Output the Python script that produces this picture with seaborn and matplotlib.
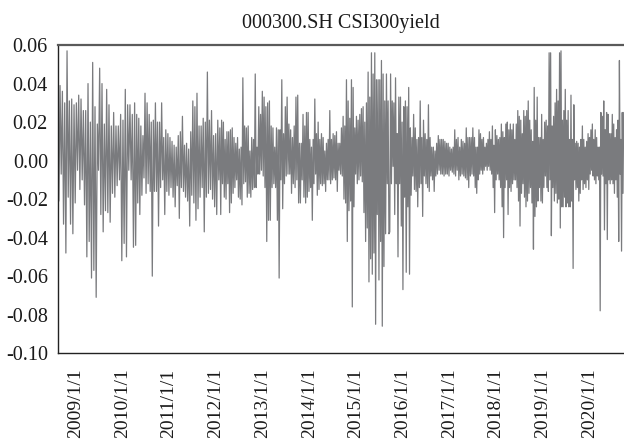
import numpy as np
import pandas as pd
import matplotlib
matplotlib.use("Agg")
import matplotlib.pyplot as plt
import seaborn as sns

# ---- data (CSI300 yield) ----
title = "000300.SH CSI300yield"
segment_bounds = ["2008-08-15", "2010-04-08", "2012-02-03", "2013-11-28",
                  "2015-09-23", "2017-07-16", "2019-05-12", "2020-09-24"]

seg1 = [0.038, -0.021, 0.039, -0.007, 0.036, -0.033, 0.030, -0.048, 0.057, -0.019,
        0.031, -0.033, 0.032, -0.038, 0.029, -0.022, 0.030, -0.005, 0.034, -0.015,
        0.032, -0.010, 0.026, -0.023, 0.026, -0.050, 0.040, -0.042, 0.020, -0.061,
        0.051, -0.057, 0.028, -0.071, 0.019, -0.005, 0.048, -0.028, 0.040, -0.037,
        0.019, -0.026, 0.037, -0.027, 0.029, -0.032, 0.018, -0.017, 0.025, -0.019,
        0.018, -0.013, 0.018, -0.010, 0.024, -0.052, 0.021, -0.043, 0.037, -0.050,
        0.029, -0.005, 0.029, -0.010, 0.024, -0.045]
seg2 = [0.030, -0.044, 0.024, -0.022, 0.022, -0.028, 0.018, -0.018, 0.013, -0.009,
        0.035, -0.017, 0.030, -0.012, 0.024, -0.016, 0.020, -0.060, 0.021, -0.016,
        0.030, -0.016, 0.020, -0.034, 0.020, -0.014, 0.030, -0.010, 0.012, -0.028,
        0.016, -0.016, 0.014, -0.018, 0.012, -0.014, 0.010, -0.019, 0.008, -0.024,
        0.007, -0.013, 0.013, -0.030, 0.015, -0.014, 0.023, -0.016, 0.008, -0.019,
        0.009, -0.021, 0.006, -0.034, 0.015, -0.018, 0.031, -0.022, 0.028, -0.031,
        0.035, -0.025, 0.018, -0.019, 0.018, -0.014, 0.022, -0.037, 0.020, -0.019,
        0.046, -0.017, 0.021, -0.015, 0.026, -0.020, 0.013, -0.024, 0.014, -0.028,
        0.021, -0.010]
seg3 = [0.017, -0.028, 0.021, -0.012, 0.020, -0.019, 0.011, -0.020, 0.015, -0.012,
        0.015, -0.027, 0.016, -0.022, 0.017, -0.017, 0.012, -0.014, 0.009, -0.010,
        0.012, -0.019, 0.006, -0.020, 0.007, -0.023, 0.043, -0.012, 0.018, -0.011,
        0.017, -0.019, 0.018, -0.017, 0.005, -0.019, 0.012, -0.015, 0.011, -0.014,
        0.045, -0.014, 0.007, -0.007, 0.028, -0.007, 0.024, -0.005, 0.036, -0.008,
        0.033, -0.014, 0.028, -0.042, 0.030, -0.031, 0.031, -0.031, 0.018, -0.014,
        0.017, -0.012, 0.007, -0.014, 0.017, -0.031, 0.016, -0.061, 0.016, -0.010,
        0.042, -0.025, 0.014, -0.012, 0.028, -0.008, 0.033, -0.007, 0.019, -0.007,
        0.016, -0.017, 0.012, -0.012, 0.018, -0.014, 0.033, -0.010, 0.034, -0.022,
        0.009, -0.022, 0.009, -0.010, 0.024, -0.019]
seg4 = [0.018, -0.022, 0.025, -0.019, 0.025, -0.016, 0.011, -0.014, 0.007, -0.031,
        0.011, -0.012, 0.032, -0.007, 0.014, -0.018, 0.020, -0.015, 0.011, -0.012,
        0.014, -0.013, 0.012, -0.012, 0.005, -0.016, 0.009, -0.010, 0.011, -0.010,
        0.026, -0.012, 0.011, -0.010, 0.014, -0.009, 0.013, -0.010, 0.015, -0.016,
        0.009, -0.005, 0.009, -0.007, 0.017, -0.008, 0.023, -0.020, 0.018, -0.022,
        0.042, -0.042, 0.031, -0.026, 0.022, -0.021, 0.042, -0.076, 0.038, -0.024,
        0.017, -0.007, 0.023, -0.012, 0.021, -0.010, 0.024, -0.008, 0.027, -0.011,
        0.028, -0.027, 0.020, -0.042, 0.030, -0.035, 0.046, -0.063, 0.033, -0.051,
        0.056, -0.059, 0.045, -0.048, 0.056, -0.085, 0.042, -0.028, 0.042, -0.062,
        0.042, -0.042, 0.052, -0.086, 0.045, -0.055, 0.031, -0.038, 0.045, -0.012,
        0.031, -0.038]
seg5 = [-0.037, 0.045, -0.012, 0.031, -0.003, 0.030, -0.028, 0.043, -0.012, 0.014,
        -0.050, 0.033, -0.012, 0.033, -0.034, 0.020, -0.067, 0.028, -0.019, 0.031,
        -0.058, 0.028, -0.024, 0.038, -0.059, 0.017, -0.018, 0.012, -0.008, 0.024,
        -0.015, 0.017, -0.016, 0.011, -0.024, 0.012, -0.014, 0.031, -0.012, 0.012,
        -0.029, 0.021, -0.008, 0.014, -0.012, 0.011, -0.014, 0.029, -0.016, 0.012,
        -0.008, 0.007, -0.010, 0.007, -0.016, 0.005, -0.008, 0.009, -0.007, 0.013,
        -0.005, 0.011, -0.007, 0.011, -0.007, 0.011, -0.008, 0.010, -0.007, 0.009,
        -0.007, 0.009, -0.008, 0.007, -0.005, 0.006, -0.006, 0.007, -0.007, 0.016,
        -0.008, 0.011, -0.005, 0.012, -0.010, 0.007, -0.008, 0.011, -0.007, 0.010,
        -0.008, 0.009, -0.009, 0.017, -0.010, 0.012, -0.014, 0.012, -0.008, 0.012,
        -0.007, 0.017, -0.008]
seg6 = [0.012, -0.014, 0.007, -0.017, 0.007, -0.010, 0.016, -0.007, 0.014, -0.005,
        0.011, -0.007, 0.012, -0.005, 0.007, -0.003, 0.009, -0.005, 0.011, -0.003,
        0.015, -0.005, 0.011, -0.007, 0.018, -0.014, 0.008, -0.027, 0.016, -0.010,
        0.013, -0.007, 0.011, -0.010, 0.012, -0.014, 0.019, -0.024, 0.015, -0.040,
        0.012, -0.014, 0.019, -0.010, 0.020, -0.028, 0.016, -0.014, 0.019, -0.016,
        0.016, -0.012, 0.019, -0.010, 0.011, -0.010, 0.019, -0.014, 0.026, -0.021,
        0.023, -0.034, 0.021, -0.017, 0.014, -0.012, 0.026, -0.019, 0.023, -0.024,
        0.026, -0.021, 0.031, -0.017, 0.021, -0.014, 0.016, -0.022, 0.010, -0.046,
        0.038, -0.029, 0.021, -0.024, 0.033, -0.021, 0.012, -0.014, 0.012, -0.021,
        0.024, -0.022, 0.011, -0.014, 0.020, -0.008, 0.021, -0.014, 0.018, -0.016,
        0.056, -0.010, 0.056, -0.039, 0.018, -0.014, 0.023, -0.021, 0.030, -0.017,
        0.037, -0.022, 0.031, -0.020]
seg7 = [0.056, -0.035, 0.057, -0.024, 0.021, -0.024, 0.026, -0.019, 0.037, -0.024,
        0.021, -0.022, 0.026, -0.024, 0.011, -0.024, 0.034, -0.021, 0.011, -0.056,
        0.029, -0.010, 0.009, -0.015, 0.010, -0.014, 0.009, -0.021, 0.007, -0.017,
        0.011, -0.010, 0.018, -0.015, 0.011, -0.012, 0.007, -0.014, 0.010, -0.010,
        0.014, -0.015, 0.012, -0.007, 0.016, -0.005, 0.019, -0.008, 0.011, -0.010,
        0.016, -0.012, 0.012, -0.008, 0.007, -0.010, 0.007, -0.078, 0.025, -0.007,
        0.023, -0.008, 0.031, -0.036, 0.016, -0.012, 0.025, -0.041, 0.024, -0.010,
        0.014, -0.012, 0.014, -0.010, 0.024, -0.012, 0.019, -0.017, 0.012, -0.010,
        0.016, -0.019, 0.021, -0.042, 0.052, -0.007, 0.011, -0.047, 0.025, -0.017,
        0.025]

tick_years = list(range(2009, 2021))
tick_labels = [f"{y}/1/1" for y in tick_years]
y_ticks = [-0.10, -0.08, -0.06, -0.04, -0.02, 0.00, 0.02, 0.04, 0.06]

# ---- build a dated frame ----
segments = [seg1, seg2, seg3, seg4, seg5, seg6, seg7]
frames = []
for i, seg in enumerate(segments):
    t0 = pd.Timestamp(segment_bounds[i]).value
    t1 = pd.Timestamp(segment_bounds[i + 1]).value
    last = i == len(segments) - 1
    ts = np.linspace(t0, t1, len(seg) if last else len(seg) + 1)
    if not last:
        ts = ts[:-1]
    frames.append(pd.DataFrame({"date": pd.to_datetime(ts.astype("int64")), "yield": seg}))
df = pd.concat(frames, ignore_index=True)

# ---- style ----
sns.set_style("white")
plt.rcParams["font.family"] = ["Liberation Serif", "DejaVu Serif"]
plt.rcParams["axes.unicode_minus"] = False

fig = plt.figure(figsize=(6.24, 4.42), dpi=100)
ax = fig.add_axes([0.0925, 0.201, 0.907, 0.697])

sns.lineplot(data=df, x="date", y="yield", ax=ax, color="#7a7b7e", linewidth=0.9)

ax.set_xlim(df["date"].iloc[0], df["date"].iloc[-1])
ax.set_ylim(-0.10, 0.06)
ax.set_yticks(y_ticks)
ax.set_yticklabels([f"{v:.2f}" for v in y_ticks], fontsize=14.5, color="#1a1a1a")
ax.set_xticks([pd.Timestamp(f"{y}-01-01") for y in tick_years])
ax.set_xticklabels(tick_labels, rotation=90, fontsize=14, color="#1a1a1a")
ax.tick_params(axis="both", length=0)
ax.tick_params(axis="y", pad=7)
ax.tick_params(axis="x", pad=11)
ax.set_xlabel("")
ax.set_ylabel("")
ax.grid(False)

ax.spines["right"].set_visible(False)
ax.spines["top"].set_color("#5a5a5a")
ax.spines["top"].set_linewidth(1.6)
ax.spines["left"].set_color("#222222")
ax.spines["left"].set_linewidth(1.0)
ax.spines["bottom"].set_color("#222222")
ax.spines["bottom"].set_linewidth(1.0)

ax.set_title(title, fontsize=14.5, color="#1a1a1a", pad=12)

fig.savefig("out.png", dpi=100)
